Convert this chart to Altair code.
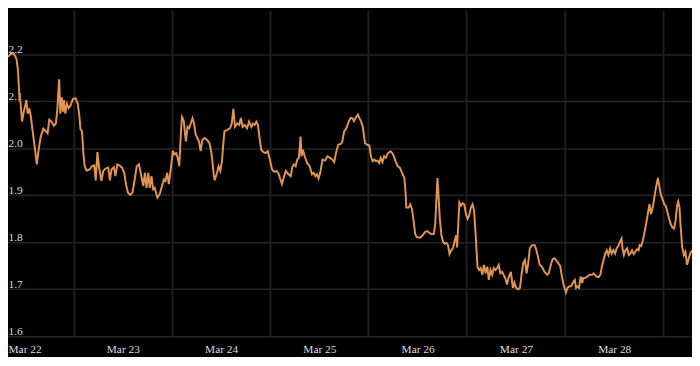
import altair as alt
import pandas as pd

# hours since Mar 22 00:00
hours = [0.0, 0.65, 1.44, 2.09, 2.4, 2.64, 2.81, 3.05, 3.43, 3.84, 4.25, 4.49, 4.8, 5.21, 5.59, 6.24, 6.65, 7.03, 7.44, 7.99,
         8.64, 9.29, 9.67, 10.08, 10.63, 11.21, 11.69, 12.07, 12.48, 12.79, 13.13, 13.44, 13.68, 13.99, 14.4, 14.81, 15.29, 15.84, 16.49, 17.04,
         17.45, 17.69, 18.07, 18.41, 18.72, 19.2, 19.99, 20.47, 21.05, 21.43, 21.84, 22.25, 22.8, 23.28, 23.83, 24.48, 24.89, 25.27, 25.85, 26.23,
         26.71, 27.19, 27.84, 28.39, 28.8, 29.28, 29.83, 30.41, 30.89, 31.44, 31.99, 32.47, 33.05, 33.43, 33.84, 34.25, 34.63, 35.04, 35.45, 35.83,
         36.48, 37.03, 37.61, 38.09, 38.47, 38.88, 39.29, 39.84, 40.25, 40.63, 41.04, 41.45, 41.83, 42.24, 42.48, 42.89, 43.44, 43.85, 44.23, 44.64,
         45.05, 45.43, 45.84, 46.25, 46.63, 47.04, 47.45, 48.0, 48.65, 49.2, 49.61, 49.92, 50.23, 50.47, 51.05, 51.43, 51.84, 52.25, 52.63, 52.87,
         53.45, 54.24, 54.65, 55.03, 55.44, 55.99, 56.47, 56.88, 57.29, 57.84, 58.39, 58.87, 59.45, 59.83, 60.24, 60.65, 61.03, 61.44, 61.85, 62.4,
         62.88, 63.43, 63.84, 64.49, 65.04, 65.59, 66.07, 66.89, 67.44, 67.85, 68.47, 69.05, 69.43, 69.84, 70.25, 70.63, 71.04, 71.45, 71.69, 72.0,
         72.48, 73.03, 73.68, 74.23, 74.64, 75.05, 75.43, 75.84, 76.25, 76.8, 77.45, 78.0, 78.65, 79.2, 79.68, 80.09, 80.64, 81.19, 81.6, 82.08,
         82.63, 83.21, 83.69, 84.17, 84.48, 85.03, 85.44, 85.85, 86.23, 86.64, 87.19, 87.67, 88.25, 88.63, 89.04, 89.45, 89.83, 90.24, 90.65, 91.03,
         91.44, 91.85, 92.23, 92.81, 93.43, 93.84, 94.25, 94.63, 95.21, 95.69, 96.24, 96.79, 97.13, 97.27, 97.85, 98.23, 98.64, 99.05, 99.43, 99.84,
         100.63, 101.28, 101.83, 102.41, 102.89, 103.44, 103.99, 104.33, 104.64, 104.88, 105.12, 105.43, 105.84, 106.25, 106.63, 107.04, 107.45, 107.83, 108.24, 108.65,
         109.03, 109.44, 109.68, 110.0, 110.23, 110.64, 111.05, 111.43, 111.84, 112.25, 112.63, 113.04, 113.45, 113.83, 114.24, 114.65, 115.03, 115.44, 115.85, 116.23,
         116.64, 117.05, 117.43, 117.84, 118.25, 118.63, 119.04, 119.45, 119.83, 120.24, 120.65, 121.03, 121.44, 121.85, 122.23, 122.81, 123.29, 123.67, 124.08, 124.63,
         125.04, 125.45, 125.83, 126.24, 126.65, 127.03, 127.44, 127.99, 128.64, 129.05, 129.43, 129.84, 130.39, 131.04, 131.69, 132.07, 132.65, 133.03, 133.44, 133.85,
         134.4, 134.88, 135.19, 135.67, 136.25, 136.63, 137.04, 137.59, 138.07, 138.41, 138.72, 139.03, 139.44, 139.85, 140.23, 140.47, 140.88, 141.43, 142.08, 142.63,
         143.04, 143.69, 144.24, 144.65, 145.03, 145.44, 145.85, 146.23, 146.64, 147.05, 147.43, 147.84, 148.25, 148.63, 149.04, 149.45, 149.83, 150.07, 150.41, 150.79,
         151.2, 151.61, 151.99, 152.4, 152.81, 153.19, 153.6, 154.01, 154.25, 154.63, 155.04, 155.45, 155.83, 156.24, 156.65, 157.03, 157.44, 157.85, 158.23, 158.71,
         159.05, 159.43, 159.84, 160.25, 160.63, 161.04, 161.45, 161.83, 162.24, 162.65, 163.03, 163.44, 163.68, 163.99, 164.23, 164.64, 165.05, 165.43, 165.84, 166.25,
         166.63, 167.04]

values = [2.195, 2.201, 2.202, 2.190, 2.169, 2.135, 2.103, 2.099, 2.057, 2.078, 2.093, 2.103, 2.074, 2.085, 2.067, 2.022, 1.994, 1.966, 1.994, 2.025,
          2.042, 2.036, 2.032, 2.061, 2.057, 2.048, 2.053, 2.085, 2.147, 2.074, 2.109, 2.078, 2.103, 2.074, 2.095, 2.086, 2.092, 2.105, 2.107, 2.095,
          2.067, 2.041, 2.037, 1.990, 1.962, 1.953, 1.955, 1.962, 1.964, 1.932, 1.992, 1.959, 1.931, 1.952, 1.957, 1.959, 1.932, 1.955, 1.960, 1.941,
          1.966, 1.964, 1.959, 1.948, 1.924, 1.906, 1.901, 1.906, 1.931, 1.962, 1.966, 1.945, 1.920, 1.948, 1.916, 1.948, 1.916, 1.941, 1.913, 1.916,
          1.895, 1.902, 1.920, 1.934, 1.931, 1.948, 1.924, 1.962, 1.995, 1.987, 1.990, 1.980, 1.962, 2.036, 2.067, 2.060, 2.015, 2.046, 2.043, 2.053,
          2.064, 2.053, 2.029, 2.022, 2.015, 1.994, 2.018, 2.022, 2.018, 2.011, 1.994, 1.973, 1.945, 1.932, 1.948, 1.962, 1.952, 1.973, 2.015, 2.037,
          2.039, 2.043, 2.053, 2.084, 2.046, 2.053, 2.050, 2.065, 2.046, 2.050, 2.043, 2.057, 2.046, 2.053, 2.050, 2.057, 2.050, 2.022, 1.997, 1.992,
          1.990, 1.994, 1.980, 1.955, 1.950, 1.952, 1.946, 1.924, 1.941, 1.952, 1.945, 1.941, 1.960, 1.966, 1.962, 1.976, 1.980, 2.025, 1.983, 1.997,
          1.983, 1.969, 1.962, 1.945, 1.948, 1.941, 1.945, 1.936, 1.948, 1.976, 1.974, 1.983, 1.980, 1.976, 1.971, 1.990, 2.008, 2.009, 2.013, 2.036,
          2.043, 2.057, 2.065, 2.064, 2.058, 2.067, 2.072, 2.064, 2.057, 2.046, 2.011, 2.008, 2.006, 1.983, 1.973, 1.976, 1.973, 1.974, 1.969, 1.980,
          1.971, 1.983, 1.980, 1.990, 1.994, 1.990, 1.983, 1.973, 1.962, 1.959, 1.948, 1.937, 1.902, 1.874, 1.874, 1.881, 1.871, 1.846, 1.818, 1.811,
          1.810, 1.815, 1.822, 1.824, 1.820, 1.817, 1.818, 1.839, 1.895, 1.937, 1.902, 1.853, 1.815, 1.801, 1.797, 1.799, 1.794, 1.775, 1.783, 1.787,
          1.801, 1.815, 1.789, 1.846, 1.885, 1.878, 1.883, 1.881, 1.860, 1.850, 1.857, 1.874, 1.881, 1.867, 1.811, 1.748, 1.741, 1.745, 1.731, 1.752,
          1.734, 1.748, 1.720, 1.741, 1.731, 1.745, 1.741, 1.745, 1.752, 1.734, 1.737, 1.731, 1.724, 1.710, 1.724, 1.737, 1.703, 1.714, 1.703, 1.700,
          1.703, 1.734, 1.755, 1.762, 1.734, 1.755, 1.787, 1.794, 1.794, 1.783, 1.769, 1.752, 1.748, 1.737, 1.731, 1.734, 1.755, 1.764, 1.766, 1.762,
          1.755, 1.749, 1.731, 1.710, 1.693, 1.703, 1.706, 1.707, 1.716, 1.720, 1.703, 1.706, 1.703, 1.727, 1.713, 1.724, 1.724, 1.727, 1.731, 1.731,
          1.734, 1.727, 1.726, 1.731, 1.748, 1.762, 1.776, 1.783, 1.773, 1.787, 1.776, 1.783, 1.776, 1.787, 1.792, 1.801, 1.808, 1.787, 1.773, 1.783,
          1.787, 1.773, 1.776, 1.783, 1.775, 1.780, 1.785, 1.783, 1.794, 1.792, 1.804, 1.822, 1.839, 1.860, 1.881, 1.860, 1.874, 1.895, 1.916, 1.937,
          1.920, 1.902, 1.892, 1.881, 1.878, 1.864, 1.850, 1.839, 1.832, 1.829, 1.846, 1.881, 1.887, 1.874, 1.839, 1.790, 1.773, 1.780, 1.752, 1.766,
          1.776, 1.783]

tick_hours = [0, 24, 48, 72, 96, 120, 144]
tick_labels = ["Mar 22", "Mar 23", "Mar 24", "Mar 25", "Mar 26", "Mar 27", "Mar 28"]
grid_hours = [16.2, 40.2, 64.1, 88.0, 112.0, 136.1, 160.1]
y_ticks = [1.6, 1.7, 1.8, 1.9, 2.0, 2.1, 2.2]

line_df = pd.DataFrame({"h": hours, "v": values})
grid_df = pd.DataFrame({"h": grid_hours})

FONT = "Liberation Serif"
LABEL_EXPR = f"{tick_labels}[round(datum.value / 24)]"

x_enc = alt.X(
    "h:Q",
    scale=alt.Scale(domain=[0, 167.04], nice=False, zero=False),
    axis=alt.Axis(
        values=tick_hours, labelExpr=LABEL_EXPR, title=None, grid=False, domain=False,
        ticks=False, tickSize=0, labelAlign="left", labelBaseline="top", labelPadding=7,
        labelFont=FONT, labelFontSize=11.5, labelColor="#dedede", labelFlush=False,
        labelOverlap=False,
    ),
)

rules = alt.Chart(grid_df).mark_rule(color="#1f1f1f", strokeWidth=2).encode(x=x_enc)

line = alt.Chart(line_df).mark_line(color="#e0944f", strokeWidth=2, clip=True).encode(
    x=x_enc,
    y=alt.Y(
        "v:Q",
        scale=alt.Scale(domain=[1.6, 2.2926], nice=False, zero=False),
        axis=alt.Axis(
            values=y_ticks, format=".1f", title=None, domain=False, ticks=False, tickSize=0,
            labelAlign="left", labelBaseline="alphabetic", labelPadding=0, labelOffset=-2,
            labelFont=FONT, labelFontSize=11.5, labelColor="#dedede", gridColor="#252525",
            gridWidth=1.5, labelFlush=False, labelOverlap=False,
        ),
    ),
)

chart = (
    alt.layer(rules, line)
    .properties(width=692, height=329, padding=0, background="#000000")
    .configure_view(stroke=None)
)

chart.save("out.html", embed_options={"renderer": "svg", "actions": False})
